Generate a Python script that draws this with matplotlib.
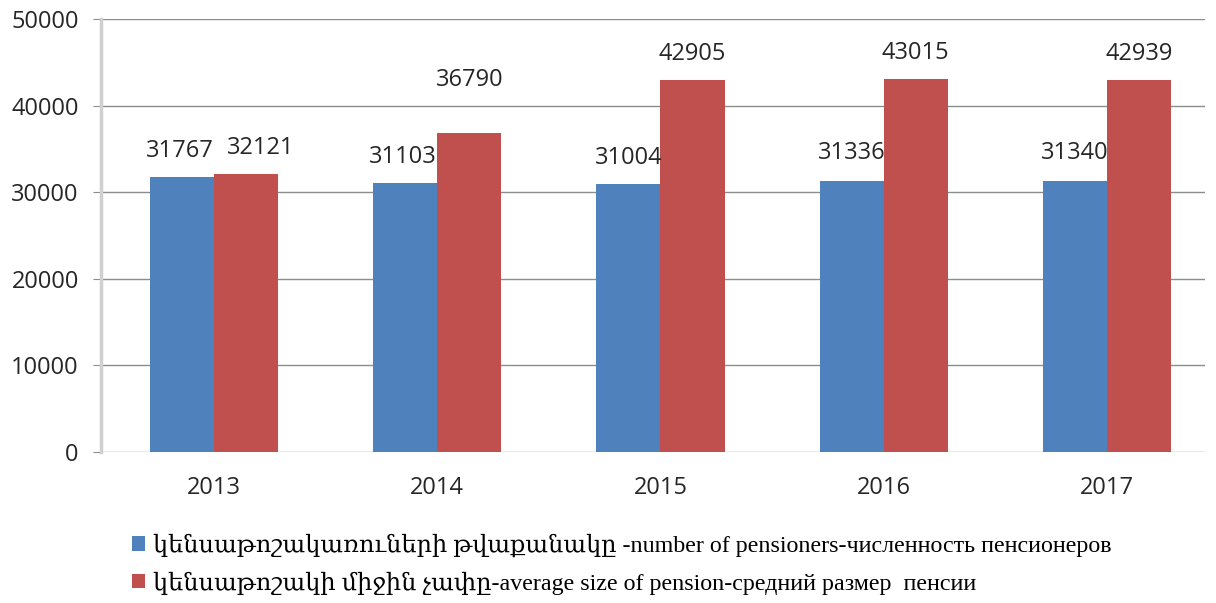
import matplotlib
matplotlib.use("Agg")
import matplotlib.pyplot as plt
import numpy as np

years = ["2013", "2014", "2015", "2016", "2017"]
pensioners = [31767, 31103, 31004, 31336, 31340]
avg_pension = [32121, 36790, 42905, 43015, 42939]
labels = ["կենսաթոշակառուների թվաքանակը -number of pensioners-численность пенсионеров",
          "կենսաթոշակի միջին չափը-average size of pension-средний размер  пенсии"]
yticks = [0, 10000, 20000, 30000, 40000, 50000]

blue = "#4F81BD"
red = "#C0504D"

fig = plt.figure(figsize=(12.16, 6.03), dpi=100)
ax = fig.add_axes([101/1216, 1 - 452/603, (1205-101)/1216, (452-19)/603])

x = np.arange(len(years))
w = 0.287
b1 = ax.bar(x - w/2, pensioners, w, color=blue, label=labels[0], zorder=3)
b2 = ax.bar(x + w/2, avg_pension, w, color=red, label=labels[1], zorder=3)

tfont = dict(family=["Open Sans", "DejaVu Sans"], size=17, color="#262626")
# label placement offsets (pixels) as in the original, hand-positioned
off_blue = [(-2, 26), (-2, 26), (0, 26), (0, 28), (0, 28)]
off_red = [(15, 26), (0, 53), (0, 26), (0, 26), (0, 26)]
for rect, v, (dx, dy) in zip(b1, pensioners, off_blue):
    ax.annotate(str(v), (rect.get_x() + rect.get_width()/2, v),
                xytext=(dx*0.72, dy*0.72), textcoords="offset points",
                ha="center", va="center", **tfont)
for rect, v, (dx, dy) in zip(b2, avg_pension, off_red):
    ax.annotate(str(v), (rect.get_x() + rect.get_width()/2, v),
                xytext=(dx*0.72, dy*0.72), textcoords="offset points",
                ha="center", va="center", **tfont)

ax.set_xlim(-0.506, 4.439)
ax.set_ylim(0, 50000)
ax.set_yticks(yticks)
ax.set_yticklabels([str(t) for t in yticks], **tfont)
ax.set_xticks(x)
ax.set_xticklabels(years, **tfont)
ax.yaxis.grid(True, color="#8c8c8c", linewidth=1, zorder=0)
ax.set_axisbelow(True)
for s in ["top", "right", "bottom"]:
    ax.spines[s].set_visible(False)
ax.spines["left"].set_color("#d0d0d0")
ax.spines["left"].set_linewidth(2.5)
ax.tick_params(axis="y", length=6, color="#8c8c8c", pad=10)
ax.tick_params(axis="x", length=0, pad=17)

leg = fig.legend(handles=[b1, b2], labels=labels, loc="upper left",
                 bbox_to_anchor=(122/1216, 1 - 524/603), frameon=False,
                 prop=dict(family=["Liberation Serif", "DejaVu Serif"], size=17.3),
                 handlelength=0.55, handleheight=0.55, handletextpad=0.35,
                 labelspacing=0.6, borderaxespad=0)

fig.savefig("out.png", dpi=100)
